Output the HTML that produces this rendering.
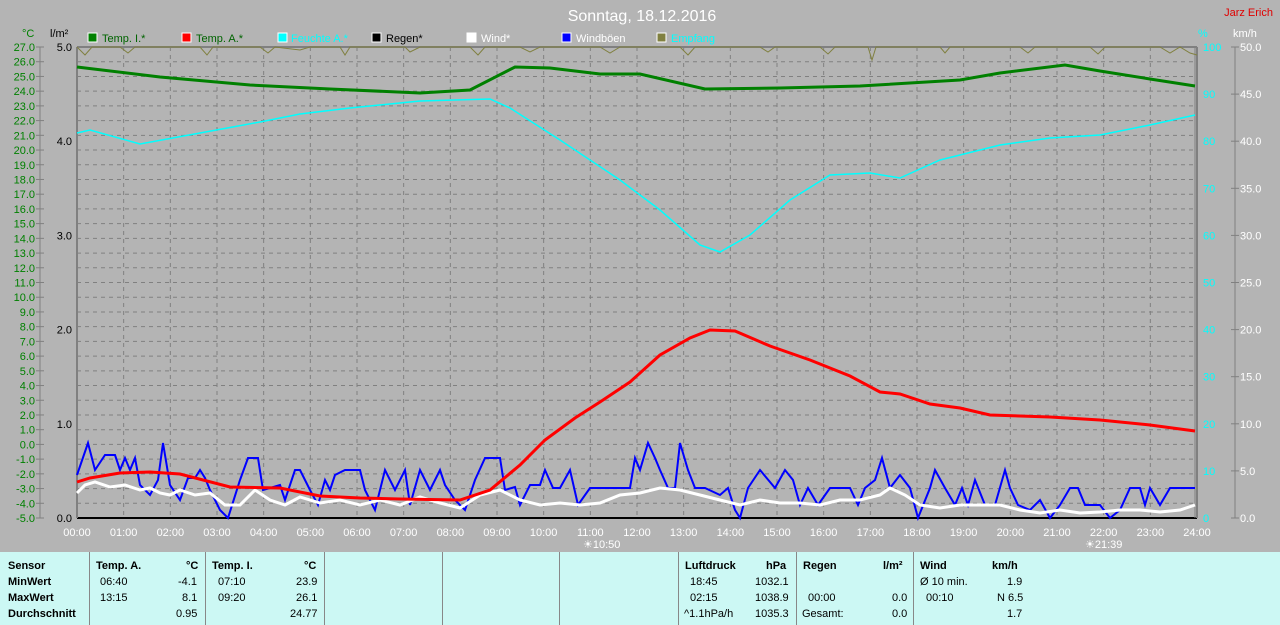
<!DOCTYPE html><html><head><style>
body{margin:0;width:1280px;height:625px;background:#b4b4b4;font-family:"Liberation Sans",sans-serif;overflow:hidden;position:relative}
.t{position:absolute;font-size:11px;white-space:nowrap}
#tb{position:absolute;left:0;top:552px;width:1280px;height:73px;background:#ccf8f4}
.s{position:absolute;top:0;height:73px;border-left:1px solid #888}
.b{font-weight:bold;font-size:11px}
</style></head><body>
<svg width="1280" height="552" style="position:absolute;left:0;top:0" font-family="Liberation Sans" font-size="11">
<text x="642" y="21" fill="#fff" font-size="16" text-anchor="middle">Sonntag, 18.12.2016</text>
<text x="1273" y="16" fill="#e00000" font-size="11" text-anchor="end">Jarz Erich</text>
<g font-size="11">
<rect x="88" y="33" width="9" height="9" fill="#008000" stroke="#fff"/><text x="102" y="42" fill="#006400">Temp. I.*</text>
<rect x="182" y="33" width="9" height="9" fill="#f00" stroke="#fff"/><text x="196" y="42" fill="#006400">Temp. A.*</text>
<rect x="278" y="33" width="9" height="9" fill="#0ff" stroke="#fff"/><text x="291" y="42" fill="#0ff">Feuchte A.*</text>
<rect x="372" y="33" width="9" height="9" fill="#000" stroke="#fff"/><text x="386" y="42" fill="#000">Regen*</text>
<rect x="467" y="33" width="9" height="9" fill="#fff" stroke="#fff"/><text x="481" y="42" fill="#fff">Wind*</text>
<rect x="562" y="33" width="9" height="9" fill="#00f" stroke="#fff"/><text x="576" y="42" fill="#fff">Windböen</text>
<rect x="657" y="33" width="9" height="9" fill="#808040" stroke="#fff"/><text x="671" y="42" fill="#0ff">Empfang</text>
</g>
<text x="22" y="37" fill="#008000" font-size="11">°C</text>
<text x="50" y="37" fill="#000" font-size="11">l/m²</text>
<text x="1198" y="37" fill="#0ff" font-size="11">%</text>
<text x="1233" y="37" fill="#fff" font-size="11">km/h</text>
<line x1="40" y1="47" x2="40" y2="518" stroke="#808080"/>
<line x1="1235" y1="47" x2="1235" y2="518" stroke="#808080"/>
<g id="grid"></g>
<g stroke="#808080" stroke-dasharray="4,4" id="gr">
</g>
<line x1="77" y1="518" x2="1197" y2="518" stroke="#000" stroke-width="2"/>
<line x1="77" y1="47" x2="1197" y2="47" stroke="#808080" stroke-width="2"/>
<line x1="77" y1="47" x2="77" y2="518" stroke="#808080" stroke-width="2"/>
<line x1="1195" y1="47" x2="1195" y2="518" stroke="#808080"/>
<line x1="1197" y1="47" x2="1197" y2="518" stroke="#808080" stroke-width="2"/>
<polyline fill="none" stroke="#808040" points="77,47 85,55 92,47 120,47 128,53 135,47 200,47 207,55 213,47 260,47 268,53 275,47 300,50 310,47 340,47 345,55 350,47 405,47 410,52 420,47 470,47 478,55 485,47 520,47 530,52 540,47 600,47 610,53 620,47 680,47 688,55 695,47 760,47 768,52 775,47 820,47 828,54 835,47 868,47 872,60 876,47 940,47 945,53 950,47 1020,47 1028,53 1035,47 1090,47 1098,54 1105,47 1160,47 1170,53 1180,47 1190,53 1197,55"/>
<polyline fill="none" stroke="#0ff" stroke-width="1.5" points="77,133 90,130 140,144 200,133 260,122 300,114 350,108 420,101 490,99 510,108 560,140 620,180 660,210 700,245 720,252 750,235 790,200 830,175 870,173 900,178 940,160 1000,145 1050,138 1100,135 1150,125 1195,115"/>
<polyline fill="none" stroke="#008000" stroke-width="3" points="77,67 160,77 250,85 330,89 420,93 470,90 515,67 550,68 600,74 640,74 705,89 780,88 860,86 960,80 1000,73 1065,65 1100,71 1150,79 1195,86"/>
<polyline fill="none" stroke="#00f" stroke-width="2" points="77,475 88,443 95,470 105,455 115,455 120,470 125,458 130,470 135,458 140,485 150,495 158,480 163,443 170,485 180,500 188,478 195,478 200,470 205,478 210,490 220,510 228,518 240,480 248,458 258,458 263,490 270,488 280,485 285,500 295,470 300,470 310,490 318,505 325,480 330,490 335,475 345,470 360,470 365,490 375,510 385,470 395,490 405,470 410,505 420,470 430,490 440,470 445,485 455,500 465,510 475,480 485,458 500,458 505,490 515,487 520,505 530,485 540,485 545,470 553,488 560,488 570,470 578,505 590,488 600,488 630,488 635,458 640,470 648,443 655,458 660,470 668,488 675,488 680,443 688,470 695,488 705,488 720,495 728,488 735,510 740,518 748,488 760,470 775,488 785,470 793,480 800,505 808,488 818,505 830,488 850,488 858,505 865,488 875,480 882,458 890,488 900,475 910,488 918,518 930,488 935,470 945,488 955,505 962,488 968,505 975,480 985,505 995,505 1005,470 1010,488 1018,505 1030,510 1040,500 1050,518 1060,505 1070,488 1078,488 1085,505 1100,505 1110,518 1120,510 1130,488 1140,488 1145,505 1150,488 1160,505 1170,488 1180,488 1195,488"/>
<polyline fill="none" stroke="#fff" stroke-width="3" points="77,493 85,485 95,482 110,487 125,485 140,490 150,488 160,493 170,495 180,490 195,495 210,493 225,505 240,505 255,490 270,500 285,505 300,497 320,503 340,500 360,505 380,500 400,505 420,497 440,503 460,508 480,495 500,490 520,500 540,505 560,503 580,505 600,503 620,495 640,493 660,488 680,490 700,495 720,500 740,505 760,500 780,503 800,503 820,505 840,500 860,500 880,495 890,488 905,495 920,505 940,508 960,505 980,505 1000,505 1020,510 1040,513 1060,510 1080,513 1100,512 1120,510 1140,510 1160,512 1180,510 1195,505"/>
<polyline fill="none" stroke="#f00" stroke-width="3" points="77,482 90,478 120,473 150,472 180,474 230,487 280,488 320,496 360,498 400,499 460,500 490,490 520,465 545,440 575,418 600,402 630,382 660,355 690,338 710,330 735,331 770,346 810,360 850,376 880,392 900,394 930,404 960,408 990,415 1050,417 1100,420 1150,425 1195,431"/>
<text x="583" y="548" fill="#fff" font-size="11">☀10:50</text>
<text x="1085" y="548" fill="#fff" font-size="11">☀21:39</text>
</svg>
<script>
var s='',ns='http://www.w3.org/2000/svg';
var g=document.getElementById('gr'),o='';
for(var i=1;i<32;i++){var y=47+i*471/32;o+='<line x1="77" y1="'+y+'" x2="1197" y2="'+y+'"/>';}
for(var h=1;h<24;h++){var x=77+h*1120/24;o+='<line x1="'+x+'" y1="47" x2="'+x+'" y2="518"/>';}
g.innerHTML=o;
var t='';
for(var i=0;i<=32;i++){var y=47+i*471/32,v=(27-i).toFixed(1);t+='<text x="35" y="'+(y+4)+'" fill="#008000" text-anchor="end">'+v+'</text><line x1="36" y1="'+y+'" x2="44" y2="'+y+'" stroke="#808080"/>';}
for(var i=0;i<=5;i++){var y=518-i*471/5;t+='<text x="72" y="'+(y+4)+'" fill="#000" text-anchor="end">'+i.toFixed(1)+'</text>';}
for(var i=0;i<=10;i++){var y=518-i*47.1;t+='<text x="1203" y="'+(y+4)+'" fill="#0ff">'+(i*10)+'</text><text x="1240" y="'+(y+4)+'" fill="#fff">'+(i*5).toFixed(1)+'</text><line x1="1231" y1="'+y+'" x2="1239" y2="'+y+'" stroke="#808080"/>';}
for(var h=0;h<=24;h++){var x=77+h*1120/24;t+='<text x="'+x+'" y="536" fill="#fff" text-anchor="middle">'+(h<10?'0':'')+h+':00</text>';}
document.querySelector('svg').insertAdjacentHTML('beforeend',t);
</script>
<div id="tb">
<div class="s" style="left:89px"></div><div class="s" style="left:205px"></div><div class="s" style="left:324px"></div><div class="s" style="left:442px"></div><div class="s" style="left:559px"></div><div class="s" style="left:678px"></div><div class="s" style="left:796px"></div><div class="s" style="left:913px"></div>
<div class="t b" style="left:8px;top:8px">Sensor</div><div class="t b" style="left:8px;top:24px">MinWert</div><div class="t b" style="left:8px;top:40px">MaxWert</div><div class="t b" style="left:8px;top:56px">Durchschnitt</div>
<div class="t b" style="left:96px;top:8px">Temp. A.</div><div class="t b" style="left:186px;top:8px">°C</div>
<div class="t" style="left:100px;top:24px">06:40</div><div class="t" style="left:178px;top:24px">-4.1</div>
<div class="t" style="left:100px;top:40px">13:15</div><div class="t" style="left:182px;top:40px">8.1</div>
<div class="t" style="left:176px;top:56px">0.95</div>
<div class="t b" style="left:212px;top:8px">Temp. I.</div><div class="t b" style="left:304px;top:8px">°C</div>
<div class="t" style="left:218px;top:24px">07:10</div><div class="t" style="left:296px;top:24px">23.9</div>
<div class="t" style="left:218px;top:40px">09:20</div><div class="t" style="left:296px;top:40px">26.1</div>
<div class="t" style="left:290px;top:56px">24.77</div>
<div class="t b" style="left:685px;top:8px">Luftdruck</div><div class="t b" style="left:766px;top:8px">hPa</div>
<div class="t" style="left:690px;top:24px">18:45</div><div class="t" style="left:755px;top:24px">1032.1</div>
<div class="t" style="left:690px;top:40px">02:15</div><div class="t" style="left:755px;top:40px">1038.9</div>
<div class="t" style="left:684px;top:56px">^1.1hPa/h</div><div class="t" style="left:755px;top:56px">1035.3</div>
<div class="t b" style="left:803px;top:8px">Regen</div><div class="t b" style="left:883px;top:8px">l/m²</div>
<div class="t" style="left:808px;top:40px">00:00</div><div class="t" style="left:892px;top:40px">0.0</div>
<div class="t" style="left:802px;top:56px">Gesamt:</div><div class="t" style="left:892px;top:56px">0.0</div>
<div class="t b" style="left:920px;top:8px">Wind</div><div class="t b" style="left:992px;top:8px">km/h</div>
<div class="t" style="left:920px;top:24px">Ø 10 min.</div><div class="t" style="left:1007px;top:24px">1.9</div>
<div class="t" style="left:926px;top:40px">00:10</div><div class="t" style="left:997px;top:40px">N 6.5</div>
<div class="t" style="left:1007px;top:56px">1.7</div>
</div>
</body></html>
